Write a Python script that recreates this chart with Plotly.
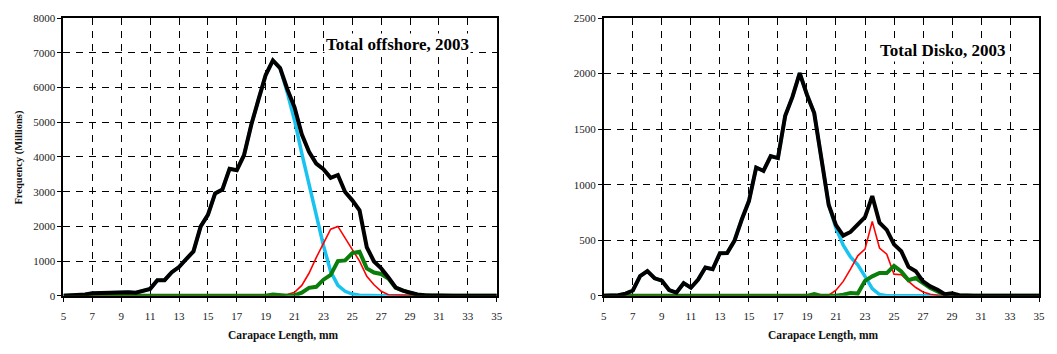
import plotly.graph_objects as go

# Carapace length classes (mm), 0.5 mm steps
length_mm = [5, 5.5, 6, 6.5, 7, 7.5, 8, 8.5, 9, 9.5, 10, 10.5, 11, 11.5, 12, 12.5,
             13, 13.5, 14, 14.5, 15, 15.5, 16, 16.5, 17, 17.5, 18, 18.5, 19, 19.5,
             20, 20.5, 21, 21.5, 22, 22.5, 23, 23.5, 24, 24.5, 25, 25.5, 26, 26.5,
             27, 27.5, 28, 28.5, 29, 29.5, 30, 30.5, 31, 31.5, 32, 32.5, 33, 33.5,
             34, 34.5, 35]

# Total offshore, 2003 (millions)
off_total = [0, 5, 20, 40, 75, 85, 90, 90, 120, 105, 90, 150, 200, 450, 450, 680,
             830, 1060, 1280, 2000, 2330, 2950, 3060, 3660, 3620, 4050, 4920, 5650, 6360, 6780,
             6560, 5950, 5430, 4650, 4150, 3810, 3650, 3400, 3480, 2990, 2750, 2460, 1400, 990,
             790, 530, 240, 150, 90, 40, 15, 5, 0, 0, 0, 0, 0, 0,
             0, 0, 0]
off_comp1 = [0, 5, 20, 40, 75, 85, 90, 90, 120, 105, 90, 150, 200, 450, 450, 680,
             830, 1060, 1280, 2000, 2330, 2950, 3060, 3660, 3620, 4050, 4920, 5650, 6360, 6780,
             6560, 5850, 5050, 4100, 3200, 2350, 1450, 700, 300, 130, 50, 20, 5, 0,
             0, 0, 0, 0, 0, 0, 0, 0, 0, 0, 0, 0, 0, 0,
             0, 0, 0]
off_comp2 = [0, 0, 0, 0, 0, 0, 0, 0, 0, 0, 0, 0, 0, 0, 0, 0,
             0, 0, 0, 0, 0, 0, 0, 0, 0, 0, 0, 0, 0, 0,
             0, 40, 100, 300, 650, 1100, 1500, 1920, 2000, 1650, 1330, 1000, 560, 320,
             130, 30, 20, 10, 0, 0, 0, 0, 0, 0, 0, 0, 0, 0,
             0, 0, 0]
off_comp3 = [0, 0, 0, 0, 0, 0, 0, 0, 0, 0, 0, 0, 0, 0, 0, 0,
             0, 0, 0, 0, 0, 0, 0, 0, 0, 0, 0, 0, 0, 40,
             10, 0, 15, 90, 230, 260, 465, 605, 1000, 1020, 1230, 1270, 790, 670,
             630, 500, 230, 140, 80, 30, 10, 0, 0, 0, 0, 0, 0, 0,
             0, 0, 0]

# Total Disko, 2003 (millions)
dis_total = [0, 0, 5, 20, 48, 178, 222, 158, 136, 52, 29, 114, 73, 146, 255, 239,
             384, 386, 495, 685, 853, 1155, 1125, 1258, 1240, 1620, 1790, 2005, 1810, 1645,
             1245, 818, 636, 542, 575, 638, 708, 898, 658, 593, 463, 402, 260, 222,
             130, 85, 55, 14, 22, 6, 0, 0, 0, 0, 0, 0, 0, 0,
             0, 0, 0]
dis_comp1 = [0, 0, 5, 20, 48, 178, 222, 158, 136, 52, 29, 114, 73, 146, 255, 239,
             384, 386, 495, 685, 853, 1155, 1125, 1258, 1240, 1620, 1790, 2005, 1810, 1645,
             1245, 818, 610, 455, 350, 280, 175, 65, 12, 0, 0, 0, 0, 0,
             0, 0, 0, 0, 0, 0, 0, 0, 0, 0, 0, 0, 0, 0,
             0, 0, 0]
dis_comp2 = [0, 0, 0, 0, 0, 0, 0, 0, 0, 0, 0, 0, 0, 0, 0, 0,
             0, 0, 0, 0, 0, 0, 0, 0, 0, 0, 0, 0, 0, 0,
             0, 5, 50, 130, 240, 360, 420, 670, 430, 375, 195, 190, 130, 75,
             35, 14, 5, 0, 0, 0, 0, 0, 0, 0, 0, 0, 0, 0,
             0, 0, 0]
dis_comp3 = [0, 0, 0, 0, 0, 0, 0, 0, 0, 0, 0, 0, 0, 0, 0, 0,
             0, 0, 0, 0, 0, 0, 0, 0, 0, 0, 0, 0, 0, 15,
             0, 0, 0, 10, 25, 20, 135, 175, 205, 205, 270, 220, 140, 160,
             110, 70, 40, 10, 0, 0, 0, 0, 0, 0, 0, 0, 0, 0,
             0, 0, 0]

x_ticks = [5, 7, 9, 11, 13, 15, 17, 19, 21, 23, 25, 27, 29, 31, 33, 35]
panel_titles = ["Total offshore, 2003", "Total Disko, 2003"]

SERIF = "Liberation Serif, Times New Roman, serif"
W, H = 1057, 354

# series styling: (colour, width) in drawing order
styles = [("#19c3f0", 3.5), ("#ff0000", 1.6), ("#0a7d0a", 4), ("#000000", 4)]

fig = go.Figure()
panels = [
    (off_comp1, off_comp2, off_comp3, off_total, "x", "y"),
    (dis_comp1, dis_comp2, dis_comp3, dis_total, "x2", "y2"),
]
for c1, c2, c3, tot, xa, ya in panels:
    for ys, (col, lw) in zip([c1, c2, c3, tot], styles):
        fig.add_trace(go.Scatter(x=length_mm, y=ys, mode="lines",
                                 line=dict(color=col, width=lw),
                                 xaxis=xa, yaxis=ya, showlegend=False,
                                 cliponaxis=True))

grid = dict(showgrid=True, gridcolor="#000000", gridwidth=1, griddash="7px,6px",
            showline=True, linecolor="#000000", linewidth=2, mirror=True,
            ticks="outside", ticklen=4, tickcolor="#000000", tickwidth=1,
            tickfont=dict(family=SERIF, size=11, color="#222222"), zeroline=False)

ydom = [(354 - 300) / H, (354 - 12.5) / H]
fig.update_layout(
    width=W, height=H, margin=dict(l=0, r=0, t=0, b=0),
    paper_bgcolor="white", plot_bgcolor="white",
    xaxis=dict(domain=[61 / W, 498 / W], range=[5, 35], tickvals=x_ticks,
               anchor="y", ticklabelstandoff=5, **grid),
    yaxis=dict(domain=ydom, range=[0, 8000], dtick=1000, anchor="x", **grid),
    xaxis2=dict(domain=[606 / W, 1045 / W], range=[5, 35], tickvals=x_ticks,
                anchor="y2", ticklabelstandoff=5, **grid),
    yaxis2=dict(domain=ydom, range=[0, 2500], dtick=500, anchor="x2", **grid),
)


def note(text, px, py, size, angle=0, bg=None, color="#111111"):
    fig.add_annotation(text=text, x=px / W, y=(H - py) / H, xref="paper", yref="paper",
                       xanchor="center", yanchor="middle", showarrow=False,
                       textangle=angle, bgcolor=bg,
                       font=dict(family=SERIF, size=size, color=color))


# axis titles
note("<b>Carapace Length, mm</b>", 283, 341, 11.5)
note("<b>Carapace Length, mm</b>", 828, 341, 11.5)
note("<b>Frequency (Millions)</b>", 16, 156, 10.5, angle=-90)

# panel titles on a white box
note("<b>%s</b>" % panel_titles[0], 398, 40, 17, bg="white", color="#000000")
note("<b>%s</b>" % panel_titles[1], 948, 46, 17, bg="white", color="#000000")

fig.write_html("out.html")
